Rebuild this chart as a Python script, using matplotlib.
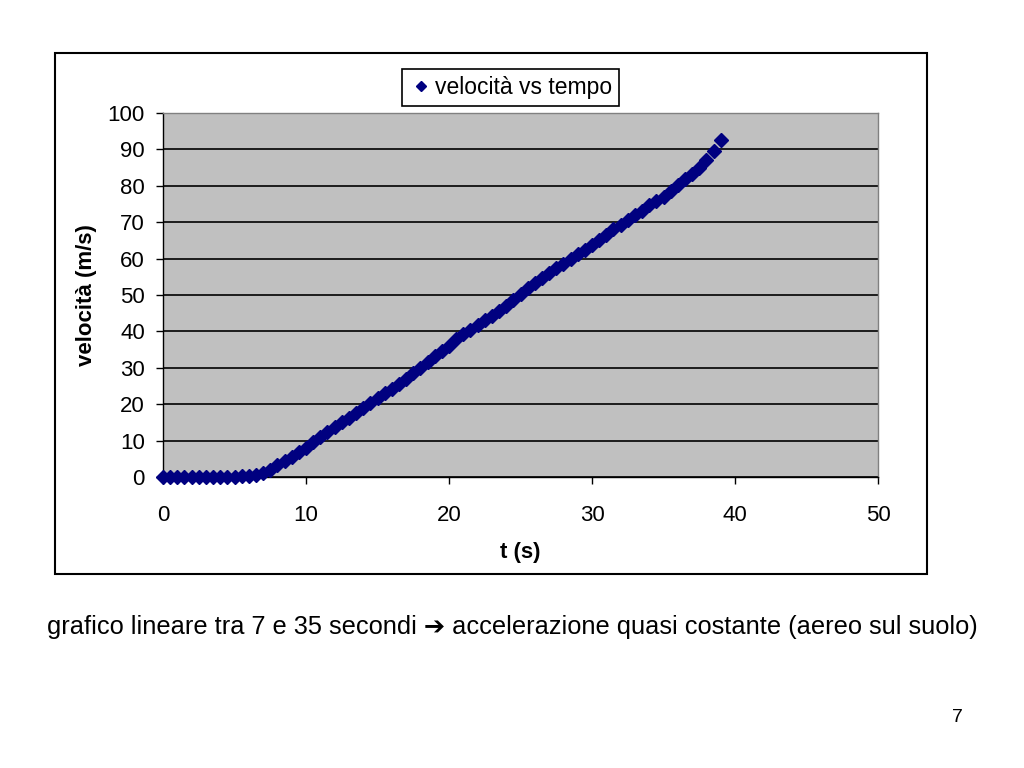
import matplotlib
matplotlib.use("Agg")
import matplotlib.pyplot as plt
from matplotlib.patches import Rectangle

plt.rcParams['font.family'] = ['Liberation Sans', 'DejaVu Sans']

# dati: tempo (s) e velocita (m/s)
tempo = [0, 0.5, 1, 1.5, 2, 2.5, 3, 3.5, 4, 4.5, 5, 5.5, 6, 6.5,
         7, 7.5, 8, 8.5, 9, 9.5, 10, 10.5, 11, 11.5, 12, 12.5, 13, 13.5,
         14, 14.5, 15, 15.5, 16, 16.5, 17, 17.5, 18, 18.5, 19, 19.5,
         20, 20.5, 21, 21.5, 22, 22.5, 23, 23.5, 24, 24.5, 25, 25.5,
         26, 26.5, 27, 27.5, 28, 28.5, 29, 29.5, 30, 30.5, 31, 31.5,
         32, 32.5, 33, 33.5, 34, 34.5, 35, 35.5, 36, 36.5, 37, 37.5,
         38, 38.5, 39]
velocita = [0, 0, 0, 0, 0, 0, 0, 0, 0, 0, 0, 0.2, 0.4, 0.6,
            1.0, 2.0, 3.2, 4.3, 5.5, 6.8, 8.0, 9.5, 11.0, 12.3, 13.8, 15.0, 16.3, 17.6,
            19.0, 20.4, 21.8, 23.0, 24.3, 25.5, 26.8, 28.5, 30.0, 31.5, 33.2, 34.6,
            36.0, 37.8, 39.3, 40.5, 41.8, 43.0, 44.3, 45.6, 47.0, 48.5, 50.2, 51.8,
            53.3, 54.7, 56.0, 57.3, 58.6, 60.0, 61.2, 62.5, 63.8, 65.2, 66.6, 68.0,
            69.3, 70.7, 71.9, 73.2, 74.6, 75.8, 77.0, 78.6, 80.2, 81.8, 83.3, 85.0,
            87.0, 89.5, 92.5]

fig = plt.figure(figsize=(10.24, 7.68), dpi=100)
fig.patch.set_facecolor('white')

# cornice esterna del grafico
fig.patches.append(Rectangle((55/1024, 1-574/768), 872/1024, 521/768,
                             transform=fig.transFigure, fill=False,
                             edgecolor='black', linewidth=1.5))

ax = fig.add_axes([163/1024, 1-477/768, 715/1024, 364/768])
ax.set_facecolor('#C0C0C0')
ax.set_xlim(0, 50)
ax.set_ylim(0, 100)
ax.set_xticks([0, 10, 20, 30, 40, 50])
ax.set_yticks(range(0, 101, 10))
ax.yaxis.grid(True, color='black', linewidth=1.2)
ax.set_axisbelow(True)
for s in ax.spines.values():
    s.set_color('#808080')
    s.set_linewidth(1.0)
ax.spines['left'].set_color('black')
ax.spines['bottom'].set_color('black')
ax.tick_params(axis='both', labelsize=16, length=5, width=1, direction='out')
ax.tick_params(axis='x', pad=15)
ax.tick_params(axis='y', pad=8)

ax.plot(tempo, velocita, linestyle='none', marker='D', markersize=7,
        color='#000080', label='velocità vs tempo', clip_on=False, zorder=3)

ax.set_xlabel('t (s)', fontsize=16, fontweight='bold', labelpad=12)
ax.set_ylabel('velocità (m/s)', fontsize=16, fontweight='bold', labelpad=8)

leg = ax.legend(loc='lower center', bbox_to_anchor=(0.486, 1.02), fontsize=16.5,
                markerscale=0.75, handletextpad=0.1, handlelength=1.0,
                fancybox=False, framealpha=1, edgecolor='black',
                borderpad=0.3, borderaxespad=0)
leg.get_frame().set_linewidth(1.2)

fig.text(47/1024, 1-627/768, 'grafico lineare tra 7 e 35 secondi ➔ accelerazione quasi costante (aereo sul suolo)',
         fontsize=18.3, va='center', ha='left')
fig.text(957/1024, 1-717/768, '7', fontsize=14, ha='center', va='center')

fig.savefig('out.png', dpi=100)
